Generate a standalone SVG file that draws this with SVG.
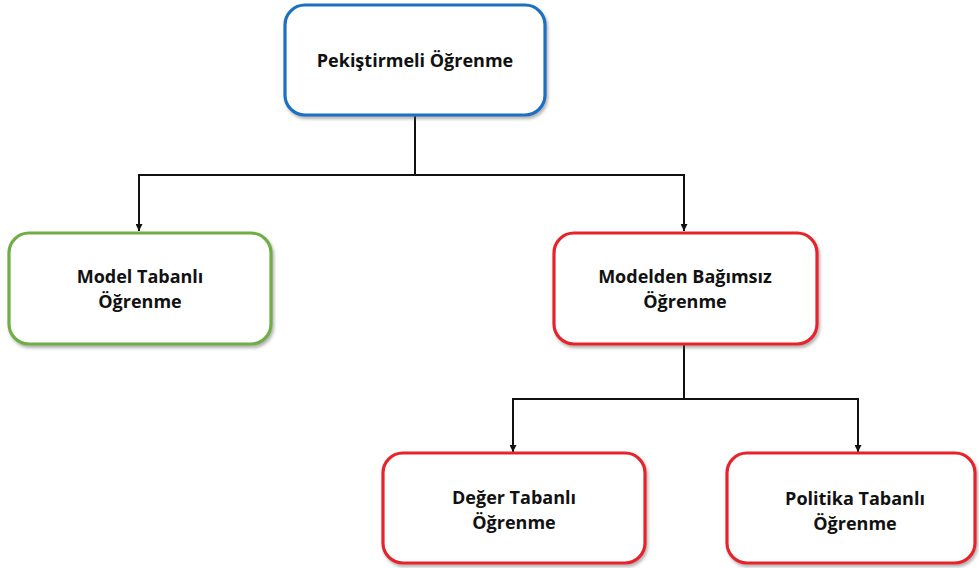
<svg xmlns="http://www.w3.org/2000/svg" width="979" height="568" viewBox="0 0 979 568">
  <style>
    .box { fill: #ffffff; stroke-width: 3.2; filter: url(#shadow); }
    .blue { stroke: #1f6fc1; }
    .green { stroke: #6fae44; }
    .red { stroke: #e8232b; }
    .label { font-family: "Open Sans", "Noto Sans", "DejaVu Sans", sans-serif; font-weight: 700; font-size: 18px; fill: #111111; text-anchor: middle; }
    .wire { fill: none; stroke: #111111; stroke-width: 2; }
  </style>
  <defs>
    <filter id="shadow" x="-10%" y="-10%" width="125%" height="130%">
      <feDropShadow dx="1.5" dy="2.5" stdDeviation="1.5" flood-color="#555555" flood-opacity="0.45"/>
    </filter>
    <marker id="arrow" viewBox="0 0 10 10" refX="10" refY="5" markerWidth="7" markerHeight="7" markerUnits="userSpaceOnUse" orient="auto">
      <path d="M0,0 L10,5 L0,10 Z" fill="#111111"/>
    </marker>
  </defs>

  <g id="connectors">
    <path class="wire" d="M415,115 V175 H139 V231" marker-end="url(#arrow)"/>
    <path class="wire" d="M415,175 H684 V231" marker-end="url(#arrow)"/>
    <path class="wire" d="M684,345 V399 H513 V452" marker-end="url(#arrow)"/>
    <path class="wire" d="M684,399 H858 V452" marker-end="url(#arrow)"/>
  </g>

  <g id="pekistirmeli">
    <rect class="box blue" x="285" y="5" width="260" height="110" rx="20"/>
    <text class="label" x="415" y="67">Pekiştirmeli Öğrenme</text>
  </g>

  <g id="model-tabanli">
    <rect class="box green" x="9" y="233" width="262" height="111" rx="20"/>
    <text class="label"><tspan x="140" y="283">Model Tabanlı</tspan><tspan x="140" y="308">Öğrenme</tspan></text>
  </g>

  <g id="modelden-bagimsiz">
    <rect class="box red" x="554" y="233" width="263" height="111" rx="20"/>
    <text class="label"><tspan x="685" y="283">Modelden Bağımsız</tspan><tspan x="685" y="308">Öğrenme</tspan></text>
  </g>

  <g id="deger-tabanli">
    <rect class="box red" x="383" y="453" width="262" height="110" rx="20"/>
    <text class="label"><tspan x="514" y="504">Değer Tabanlı</tspan><tspan x="514" y="529">Öğrenme</tspan></text>
  </g>

  <g id="politika-tabanli">
    <rect class="box red" x="727" y="453" width="248" height="110" rx="20"/>
    <text class="label"><tspan x="855" y="505">Politika Tabanlı</tspan><tspan x="855" y="530">Öğrenme</tspan></text>
  </g>
</svg>
